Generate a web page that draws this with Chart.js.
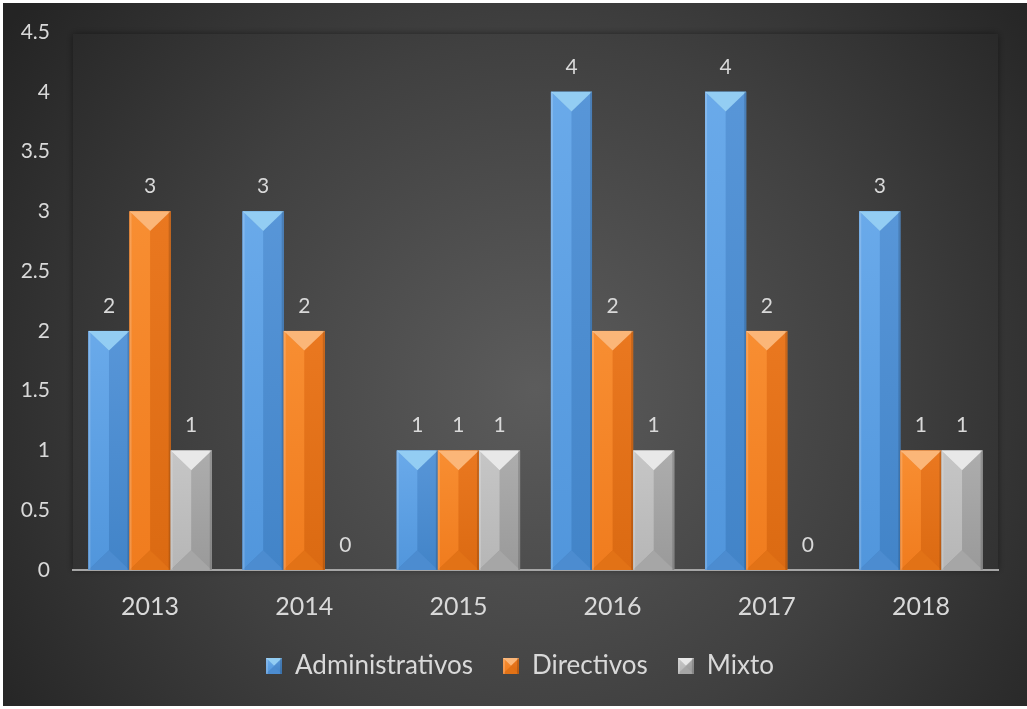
<!DOCTYPE html>
<html>
<head>
<meta charset="utf-8">
<script src="https://cdn.jsdelivr.net/npm/chart.js@4/dist/chart.umd.min.js"></script>
<style>
  html, body { margin: 0; padding: 0; background: #ffffff; }
  #wrap { position: absolute; left: 3px; top: 3px; width: 1024px; height: 703px; }
</style>
</head>
<body>
<div id="wrap"><canvas id="chart" width="1024" height="703"></canvas></div>
<script>
// chart data
const years = ['2013', '2014', '2015', '2016', '2017', '2018'];
const administrativos = [2, 3, 1, 4, 4, 3];
const directivos = [3, 2, 1, 2, 2, 1];
const mixto = [1, 0, 1, 1, 0, 1];
const seriesNames = ['Administrativos', 'Directivos', 'Mixto'];

// bevel colours for each series
const palettes = [
    { top: '#93cdf3', left: '#6aaaea', leftDark: '#5196dc', right: '#5896d8', rightDark: '#4284c8', bottom: '#4c8cd0' },
    { top: '#fbb678', left: '#f88e32', leftDark: '#f07c1e', right: '#ea7820', rightDark: '#db6a12', bottom: '#e27216' },
    { top: '#e8e8e8', left: '#c6c6c6', leftDark: '#b6b6b6', right: '#adadad', rightDark: '#9a9a9a', bottom: '#a6a6a6' }
];

const textColor = '#d9d9d9';
const fontFamily = 'Lato, "Open Sans", sans-serif';

// draws the bevelled look of one bar
function drawBevel(ctx, l, t, r, b, pal) {
    const w = r - l;
    const cx = (l + r) / 2;
    const d = Math.min(w * 0.48, (b - t) / 2);

    let g = ctx.createLinearGradient(0, t, 0, b);
    g.addColorStop(0, pal.right);
    g.addColorStop(1, pal.rightDark);
    ctx.fillStyle = g;
    ctx.fillRect(l, t, w, b - t);

    g = ctx.createLinearGradient(0, t, 0, b);
    g.addColorStop(0, pal.left);
    g.addColorStop(1, pal.leftDark);
    ctx.fillStyle = g;
    ctx.beginPath();
    ctx.moveTo(l, t);
    ctx.lineTo(cx, t + d);
    ctx.lineTo(cx, b - d);
    ctx.lineTo(l, b);
    ctx.closePath();
    ctx.fill();

    ctx.fillStyle = pal.bottom;
    ctx.beginPath();
    ctx.moveTo(l, b);
    ctx.lineTo(r, b);
    ctx.lineTo(cx, b - d);
    ctx.closePath();
    ctx.fill();

    ctx.fillStyle = pal.top;
    ctx.beginPath();
    ctx.moveTo(l, t);
    ctx.lineTo(r, t);
    ctx.lineTo(cx, t + d);
    ctx.closePath();
    ctx.fill();

    // thin light rim on the left, dark on the right
    ctx.fillStyle = 'rgba(255,255,255,0.18)';
    ctx.fillRect(l, t, 2, b - t);
    ctx.fillStyle = 'rgba(0,0,0,0.15)';
    ctx.fillRect(r - 2, t, 2, b - t);
}

// small bevelled squares for the legend
const markers = palettes.map(function(pal) {
    const c = document.createElement('canvas');
    c.width = 16;
    c.height = 16;
    drawBevel(c.getContext('2d'), 0, 0, 16, 16, pal);
    return c;
});

// background with a radial shading and a shadowed plot area
const backdrop = {
    id: 'backdrop',
    beforeDraw: function(chart) {
        const ctx = chart.ctx;
        const w = chart.width, h = chart.height;
        const g = ctx.createRadialGradient(w * 0.52, h * 0.55, 0, w * 0.52, h * 0.55, 640);
        g.addColorStop(0, '#5c5c5c');
        g.addColorStop(0.55, '#404040');
        g.addColorStop(1, '#242424');
        ctx.save();
        ctx.fillStyle = g;
        ctx.fillRect(0, 0, w, h);
        const a = chart.chartArea;
        ctx.shadowColor = 'rgba(0,0,0,0.45)';
        ctx.shadowBlur = 7;
        ctx.fillRect(a.left, a.top + 2, a.right - a.left, a.bottom - a.top - 2);
        ctx.restore();
    }
};

// bevel overlay and value labels above the bars
const barDecor = {
    id: 'barDecor',
    afterDatasetsDraw: function(chart) {
        const ctx = chart.ctx;
        ctx.save();
        chart.data.datasets.forEach(function(ds, i) {
            const meta = chart.getDatasetMeta(i);
            meta.data.forEach(function(bar, j) {
                const p = bar.getProps(['x', 'y', 'base', 'width'], true);
                if (ds.data[j] > 0) {
                    drawBevel(ctx, p.x - p.width / 2, p.y, p.x + p.width / 2, p.base, palettes[i]);
                }
                ctx.fillStyle = textColor;
                ctx.font = '21px ' + fontFamily;
                ctx.textAlign = 'center';
                ctx.textBaseline = 'middle';
                ctx.fillText(String(ds.data[j]), p.x, p.y - 25);
            });
        });
        ctx.restore();
    }
};

const datasets = [administrativos, directivos, mixto].map(function(values, i) {
    return {
        label: seriesNames[i],
        data: values,
        backgroundColor: palettes[i].right,
        borderWidth: 0
    };
});

new Chart(document.getElementById('chart'), {
    type: 'bar',
    plugins: [backdrop, barDecor],
    data: { labels: years, datasets: datasets },
    options: {
        responsive: false,
        animation: false,
        events: [],
        datasets: { bar: { categoryPercentage: 0.8, barPercentage: 1.0 } },
        layout: { padding: { top: 29, right: 0, left: 10, bottom: 17 } },
        plugins: {
            tooltip: { enabled: false },
            legend: {
                position: 'bottom',
                labels: {
                    color: textColor,
                    font: { family: fontFamily, size: 26 },
                    usePointStyle: true,
                    boxWidth: 16,
                    boxHeight: 16,
                    padding: 30,
                    generateLabels: function(chart) {
                        const items = Chart.defaults.plugins.legend.labels.generateLabels(chart);
                        items.forEach(function(it) {
                            it.pointStyle = markers[it.datasetIndex];
                            it.fontColor = textColor;
                        });
                        return items;
                    }
                }
            }
        },
        scales: {
            x: {
                grid: { display: false },
                border: { display: true, color: '#a6a6a6', width: 2 },
                ticks: { color: textColor, font: { family: fontFamily, size: 25 }, padding: 14 },
                afterFit: function(scale) {
                    scale.height = 53;
                    scale.paddingRight = 29;
                }
            },
            y: {
                min: 0,
                max: 4.5,
                grid: { display: false, drawTicks: false },
                border: { display: false },
                ticks: {
                    stepSize: 0.5,
                    color: textColor,
                    font: { family: fontFamily, size: 21 },
                    padding: 23,
                    callback: function(value) { return String(value); }
                },
                afterFit: function(scale) {
                    scale.width = 60;
                    scale.paddingTop = 0;
                    scale.paddingBottom = 0;
                }
            }
        }
    }
});
</script>
</body>
</html>
